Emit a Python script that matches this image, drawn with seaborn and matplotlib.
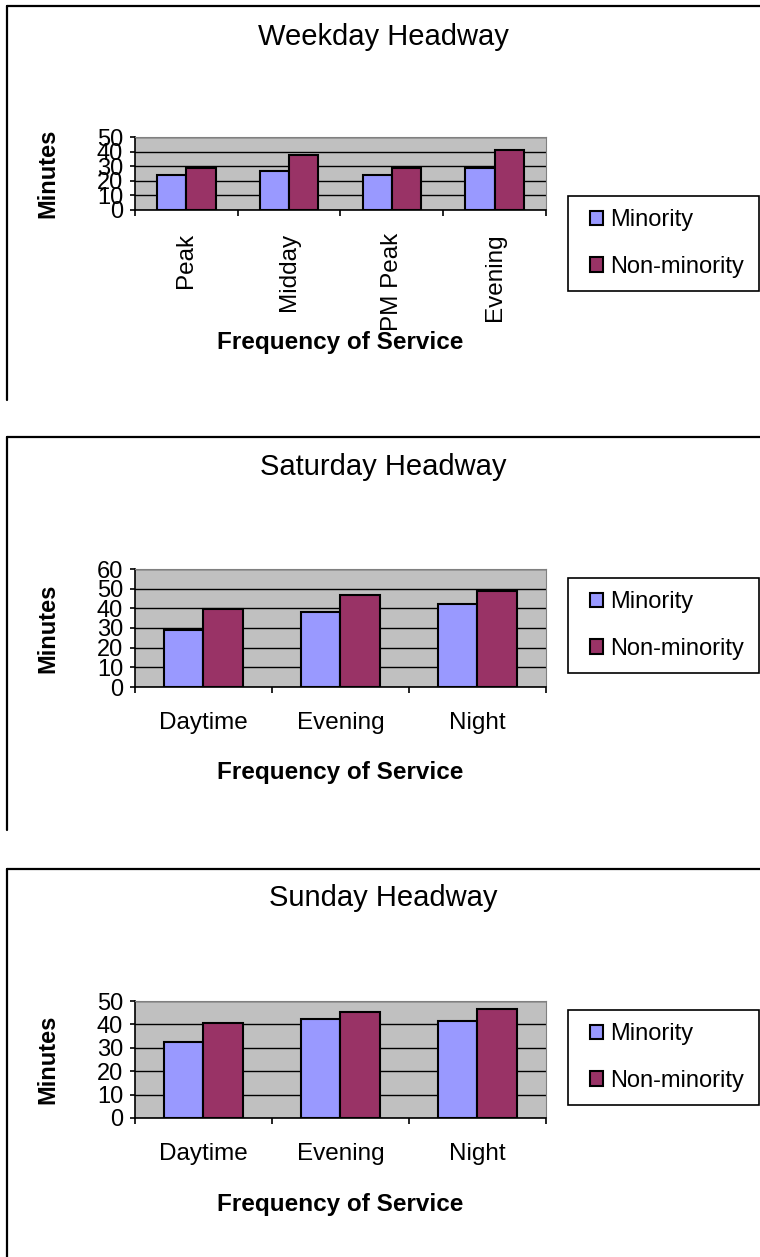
import matplotlib.pyplot as plt
from matplotlib.lines import Line2D
from matplotlib.patches import Rectangle, Patch
import pandas as pd
import seaborn as sns

groups = ['Minority', 'Non-minority']
colors = ['#9999FF', '#993366']

weekday_periods = ['Peak', 'Midday', 'PM Peak', 'Evening']
weekday_minority = [24, 27, 24, 29]
weekday_nonminority = [28.5, 38, 28.5, 41]

saturday_periods = ['Daytime', 'Evening', 'Night']
saturday_minority = [29, 38, 42]
saturday_nonminority = [39.5, 47, 49]

sunday_periods = ['Daytime', 'Evening', 'Night']
sunday_minority = [32.5, 42.5, 41.5]
sunday_nonminority = [40.5, 45.5, 46.5]

W, H = 760, 1257


def fx(x):
    return x / W


def fy(y):
    return 1 - y / H


def long_table(periods, minority, nonminority):
    rows = []
    for p, a, b in zip(periods, minority, nonminority):
        rows.append({'period': p, 'group': groups[0], 'minutes': a})
        rows.append({'period': p, 'group': groups[1], 'minutes': b})
    return pd.DataFrame(rows)


# title, periods, minority, non-minority, ymax, rotate, box top, box bottom,
# axes top, axes bottom, title y, xlabel y, legend top, legend bottom
panels = [
    ('Weekday Headway', weekday_periods, weekday_minority, weekday_nonminority,
     50, True, 6, 400, 137, 210, 37, 342, 196, 291),
    ('Saturday Headway', saturday_periods, saturday_minority, saturday_nonminority,
     60, False, 437, 830, 569, 687, 467, 773, 578, 673),
    ('Sunday Headway', sunday_periods, sunday_minority, sunday_nonminority,
     50, False, 869, 1257, 1001, 1118, 898, 1205, 1010, 1105),
]

sns.set_style('white')
plt.rcParams['font.family'] = ['Liberation Sans', 'DejaVu Sans']
plt.rcParams['text.color'] = 'black'
plt.rcParams['xtick.color'] = 'black'
plt.rcParams['ytick.color'] = 'black'

fig = plt.figure(figsize=(7.6, 12.57), dpi=100)

for (title, periods, mino, nonmino, ymax, rotate, btop, bbot,
     atop, abot, ty, xly, ltop, lbot) in panels:
    # chart area border (top and left only, the rest is cropped)
    fig.add_artist(Line2D([fx(7), fx(7)], [fy(btop), fy(bbot)], color='black', lw=1.6))
    fig.add_artist(Line2D([fx(7), fx(760)], [fy(btop), fy(btop)], color='black', lw=1.6))

    ax = fig.add_axes([fx(135), fy(abot), fx(546) - fx(135), (abot - atop) / H])
    df = long_table(periods, mino, nonmino)
    sns.barplot(data=df, x='period', y='minutes', hue='group', hue_order=groups,
                palette=colors, saturation=1, width=0.57, edgecolor='black',
                linewidth=1.5, errorbar=None, legend=False, ax=ax, zorder=3)

    ax.set_facecolor('#C0C0C0')
    ax.set_ylim(0, ymax)
    ax.set_xlim(-0.5, len(periods) - 0.5)
    ax.set_yticks(range(0, ymax + 1, 10))
    ax.yaxis.grid(True, color='black', lw=1)
    ax.set_axisbelow(True)
    for s in ['top', 'right']:
        ax.spines[s].set_color('#808080')
    for s in ['left', 'bottom']:
        ax.spines[s].set_color('black')
        ax.spines[s].set_linewidth(1.2)

    ax.set_xticks(range(len(periods)))
    ax.set_xticks([i - 0.5 for i in range(len(periods) + 1)], minor=True)
    ax.tick_params(axis='x', which='major', length=0, labelsize=17.5,
                   pad=16.5 if rotate else 18)
    ax.tick_params(axis='x', which='minor', length=4.5, width=1.2, color='black',
                   direction='out', bottom=True)
    ax.tick_params(axis='y', length=3.6, width=1.2, color='black', direction='out',
                   left=True, labelsize=17, pad=5)
    if rotate:
        ax.set_xticklabels(periods, rotation=90, va='top')
    ax.set_xlabel('')
    ax.set_ylabel('')

    fig.text(fx(383), fy(ty), title, ha='center', va='center', fontsize=21)
    fig.text(fx(48), fy((atop + abot) / 2), 'Minutes', rotation=90,
             ha='center', va='center', fontsize=17, fontweight='bold')
    fig.text(fx(340), fy(xly), 'Frequency of Service', ha='center', va='center',
             fontsize=17.5, fontweight='bold')

    # legend box
    fig.add_artist(Rectangle((fx(568), fy(lbot)), fx(759) - fx(568), (lbot - ltop) / H,
                             transform=fig.transFigure, fill=False,
                             edgecolor='black', lw=1.2))
    handles = [Patch(facecolor=c, edgecolor='black', lw=1.5) for c in colors]
    fig.legend(handles, groups, loc='center left',
               bbox_to_anchor=(fx(590), fy((ltop + lbot) / 2)), frameon=False,
               fontsize=17, handlelength=0.55, handleheight=0.55,
               handletextpad=0.3, labelspacing=1.05, borderpad=0, borderaxespad=0)

fig.savefig('out.png', dpi=100)
